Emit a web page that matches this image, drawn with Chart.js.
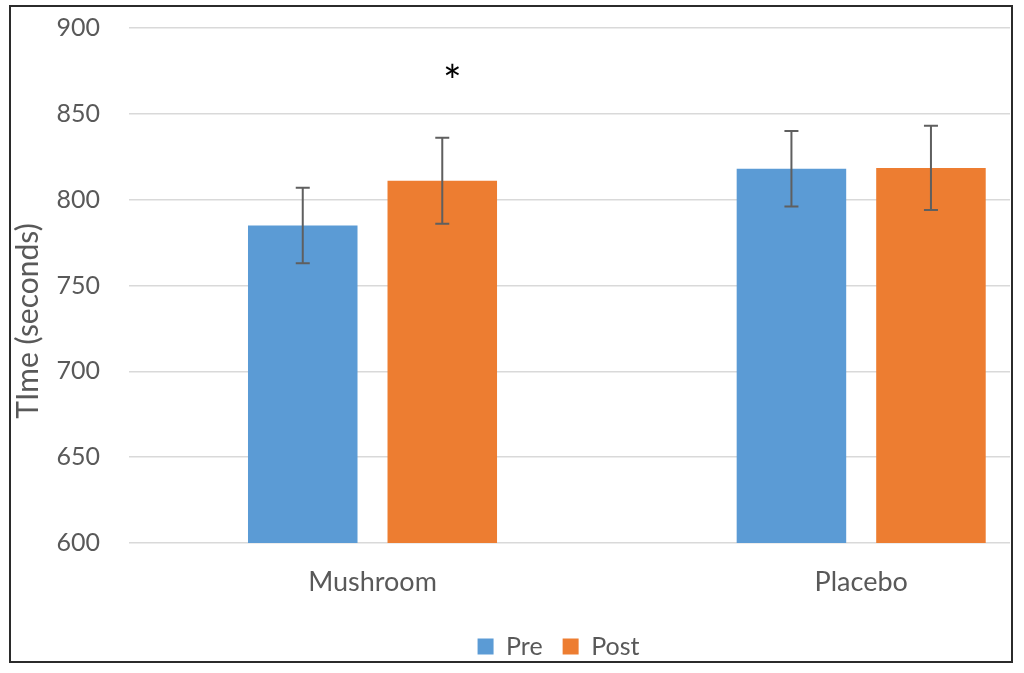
<!DOCTYPE html>
<html>
<head>
<meta charset="utf-8">
<script src="https://cdn.jsdelivr.net/npm/chart.js@4.4.0/dist/chart.umd.min.js"></script>
<style>
    html, body { margin: 0; padding: 0; background: #fff; }
    #frame {
        position: absolute; left: 9px; top: 5px;
        width: 1004px; height: 658px;
        border: 2px solid #2b2b2b; box-sizing: border-box;
    }
    #frame canvas { display: block; }
</style>
</head>
<body>
<div id="frame"><canvas id="timeChart" width="1000" height="654"></canvas></div>
<script>
// --- Data ---
const groups = ['Mushroom', 'Placebo'];
const preValues = [785, 818];
const postValues = [811, 818.5];
const preErrors = [22, 22];
const postErrors = [25, 24.5];
const yTicks = [600, 650, 700, 750, 800, 850, 900];
const yTitle = 'TIme (seconds)';
// significance mark above Mushroom / Post
const starNote = { group: 0, series: 1, value: 875.5, text: '*' };

const textColor = '#595959';
const fontFamily = 'Lato, "Open Sans", sans-serif';

// --- Plugins ---
const errorBars = {
    id: 'errorBars',
    afterDatasetsDraw(chart) {
        const { ctx, scales: { y } } = chart;
        ctx.save();
        ctx.strokeStyle = '#5f5f5f';
        ctx.lineWidth = 2;
        chart.data.datasets.forEach((ds, di) => {
            const meta = chart.getDatasetMeta(di);
            meta.data.forEach((bar, i) => {
                const v = ds.data[i].y;
                const e = ds.errors[i];
                const top = y.getPixelForValue(v + e);
                const bottom = y.getPixelForValue(v - e);
                ctx.beginPath();
                ctx.moveTo(bar.x, top); ctx.lineTo(bar.x, bottom);
                ctx.moveTo(bar.x - 7, top); ctx.lineTo(bar.x + 7, top);
                ctx.moveTo(bar.x - 7, bottom); ctx.lineTo(bar.x + 7, bottom);
                ctx.stroke();
            });
        });
        ctx.restore();
    }
};

const starMark = {
    id: 'starMark',
    afterDatasetsDraw(chart) {
        const { ctx, scales: { y } } = chart;
        const bar = chart.getDatasetMeta(starNote.series).data[starNote.group];
        ctx.save();
        ctx.fillStyle = '#000';
        ctx.font = '44px ' + fontFamily;
        ctx.textAlign = 'center';
        ctx.textBaseline = 'alphabetic';
        const m = ctx.measureText(starNote.text);
        // center the glyph itself on the value
        const base = y.getPixelForValue(starNote.value) + (m.actualBoundingBoxAscent - m.actualBoundingBoxDescent) / 2;
        ctx.fillText(starNote.text, bar.x + 10, base);
        ctx.restore();
    }
};

// axis title sits below the middle of the axis in the original, so draw it by hand
const axisTitle = {
    id: 'axisTitle',
    afterDraw(chart) {
        const { ctx, chartArea } = chart;
        ctx.save();
        ctx.translate(17, chartArea.bottom - 222);
        ctx.rotate(-Math.PI / 2);
        ctx.fillStyle = textColor;
        ctx.font = '30px ' + fontFamily;
        ctx.textAlign = 'center';
        ctx.textBaseline = 'middle';
        ctx.fillText(yTitle, 0, 0);
        ctx.restore();
    }
};

// legend sits a bit left of the plot centre in the original
const legendShift = {
    id: 'legendShift',
    afterLayout(chart) {
        chart.legend.left -= 11;
        chart.legend.right -= 11;
    }
};

// --- Chart ---
const toPoints = arr => arr.map((v, i) => ({ x: i, y: v }));

new Chart(document.getElementById('timeChart'), {
    type: 'bar',
    data: {
        datasets: [
            {
                label: 'Pre',
                data: toPoints(preValues),
                errors: preErrors,
                backgroundColor: '#5B9BD5'
            },
            {
                label: 'Post',
                data: toPoints(postValues),
                errors: postErrors,
                backgroundColor: '#ED7D31'
            }
        ]
    },
    options: {
        responsive: false,
        animation: false,
        categoryPercentage: 0.571,
        barPercentage: 0.785,
        layout: { padding: { top: 0, right: 1, bottom: 0, left: 0 } },
        scales: {
            x: {
                type: 'linear',
                offset: false,
                min: -0.4983,
                max: 1.3045,
                afterBuildTicks: s => { s.ticks = groups.map((g, i) => ({ value: i })); },
                afterFit: s => { s.height = 71; },
                grid: { display: false },
                border: { display: false },
                ticks: {
                    autoSkip: false,
                    maxRotation: 0,
                    padding: 15,
                    color: textColor,
                    font: { family: fontFamily, size: 27 },
                    callback: v => groups[v]
                }
            },
            y: {
                min: 600,
                max: 900,
                beginAtZero: false,
                afterBuildTicks: s => { s.ticks = yTicks.map(v => ({ value: v })); },
                afterFit: s => {
                    s.width = 118;
                    s.paddingTop = 21;
                    s.paddingBottom = 0;
                },
                grid: { color: '#d9d9d9', lineWidth: 1.5, drawTicks: false },
                border: { display: false },
                ticks: {
                    padding: 29,
                    color: textColor,
                    font: { family: fontFamily, size: 25 }
                },
                title: { display: false }
            }
        },
        plugins: {
            legend: {
                position: 'bottom',
                fullSize: false,
                maxHeight: 47,
                labels: {
                    boxWidth: 16,
                    boxHeight: 16,
                    padding: 20,
                    color: textColor,
                    font: { family: fontFamily, size: 25 }
                }
            },
            tooltip: { enabled: false }
        }
    },
    plugins: [errorBars, starMark, axisTitle, legendShift]
});
</script>
</body>
</html>
